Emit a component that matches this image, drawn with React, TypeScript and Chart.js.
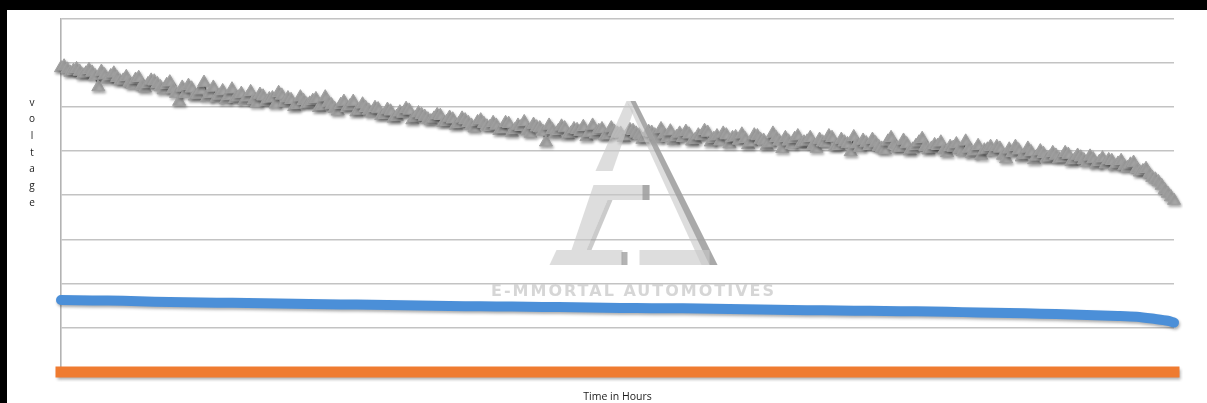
import { useEffect, useRef } from "react";
import { Chart, registerables } from "chart.js";

Chart.register(...registerables);

// Gray series (triangle markers): readings at whole sample steps
const grayVoltage: number[] = [
  6.88, 6.85, 6.82, 6.80, 6.76, 6.78, 6.45, 6.72, 6.70, 6.66,
  6.60, 6.55, 6.62, 6.48, 6.52, 6.58, 6.45, 6.50, 6.40, 6.12,
  6.30, 6.42, 6.28, 6.55, 6.30, 6.20, 6.36, 6.25, 6.18, 6.30,
  6.22, 6.15, 6.28, 6.12, 6.20, 6.32, 6.10, 6.16, 6.05, 6.14,
  6.08, 6.18, 6.02, 6.10, 5.96, 6.05, 5.98, 6.12, 5.92, 5.98,
  5.86, 5.95, 5.82, 5.90, 5.78, 5.85, 5.92, 5.76, 5.82, 5.72,
  5.74, 5.80, 5.66, 5.72, 5.62, 5.70, 5.58, 5.66, 5.62, 5.55,
  5.58, 5.50, 5.62, 5.48, 5.55, 5.45, 5.60, 5.52, 5.20, 5.48,
  5.46, 5.52, 5.40, 5.48, 5.55, 5.42, 5.38, 5.50, 5.36, 5.44,
  5.40, 5.34, 5.46, 5.36, 5.30, 5.42, 5.28, 5.38, 5.45, 5.32,
  5.30, 5.38, 5.26, 5.34, 5.42, 5.28, 5.22, 5.36, 5.30, 5.24,
  5.28, 5.20, 5.34, 5.24, 5.18, 5.30, 5.05, 5.22, 5.28, 5.16,
  5.22, 5.14, 5.26, 5.18, 5.30, 5.12, 5.20, 4.98, 5.16, 5.24,
  5.12, 5.18, 5.06, 5.22, 5.14, 5.08, 5.16, 5.04, 5.20, 5.10,
  5.06, 5.12, 5.02, 5.10, 5.16, 4.98, 5.06, 5.00, 4.90, 5.04,
  4.98, 5.06, 4.82, 4.96, 5.02, 4.92, 4.98, 4.88, 4.94, 4.86,
  4.90, 4.84, 4.92, 4.80, 4.86, 4.74, 4.82, 4.76, 4.70, 4.78,
  4.72, 4.66, 4.70, 4.60, 4.55, 4.48, 4.36, 4.22, 4.04, 3.88,
];
// Gray series: readings at the half steps in between
const grayVoltageMid: number[] = [
  6.92, 6.78, 6.86, 6.72, 6.84, 6.70, 6.80, 6.62, 6.76, 6.58,
  6.68, 6.50, 6.66, 6.42, 6.60, 6.52, 6.38, 6.56, 6.30, 6.44,
  6.48, 6.24, 6.38, 6.22, 6.44, 6.26, 6.16, 6.40, 6.22, 6.14,
  6.34, 6.08, 6.24, 6.18, 6.06, 6.26, 6.20, 6.00, 6.22, 6.06,
  6.14, 5.98, 6.22, 6.04, 5.90, 6.12, 6.02, 5.88, 6.06, 5.92,
  5.98, 5.80, 5.94, 5.74, 5.88, 5.96, 5.70, 5.86, 5.78, 5.68,
  5.82, 5.64, 5.76, 5.58, 5.74, 5.64, 5.52, 5.70, 5.56, 5.64,
  5.46, 5.64, 5.42, 5.58, 5.66, 5.40, 5.54, 5.44, 5.58, 5.38,
  5.56, 5.36, 5.50, 5.44, 5.32, 5.58, 5.46, 5.34, 5.52, 5.40,
  5.30, 5.48, 5.40, 5.26, 5.44, 5.36, 5.50, 5.30, 5.24, 5.40,
  5.44, 5.22, 5.36, 5.46, 5.20, 5.34, 5.40, 5.16, 5.32, 5.38,
  5.14, 5.36, 5.26, 5.12, 5.40, 5.22, 5.30, 5.14, 5.34, 5.20,
  5.30, 5.06, 5.20, 5.34, 5.10, 5.26, 5.16, 5.32, 5.08, 5.18,
  5.26, 5.10, 5.02, 5.30, 5.06, 5.24, 5.00, 5.12, 5.28, 5.02,
  5.14, 5.20, 4.96, 5.08, 5.04, 5.22, 4.94, 5.12, 5.02, 5.10,
  5.10, 4.90, 5.04, 5.10, 4.86, 5.06, 4.80, 5.00, 4.84, 4.96,
  4.82, 4.96, 4.76, 4.90, 4.80, 4.88, 4.70, 4.84, 4.80, 4.66,
  4.78, 4.62, 4.74, 4.52, 4.60, 4.40, 4.30, 4.12, 3.96,
];

// Blue series
const blueTimes: number[] = [
  0, 5, 10, 15, 20, 25, 30, 35, 40, 45, 50, 55, 60, 65, 70, 75, 80, 85, 90,
  95, 100, 105, 110, 115, 120, 125, 130, 135, 140, 145, 150, 155, 160, 165,
  170, 173, 176, 178, 179,
];
const blueVoltage: number[] = [
  1.63, 1.62, 1.61, 1.59, 1.58, 1.57, 1.56, 1.55, 1.54, 1.53, 1.52, 1.51,
  1.50, 1.49, 1.485, 1.475, 1.47, 1.46, 1.45, 1.445, 1.44, 1.43, 1.42, 1.41,
  1.40, 1.39, 1.385, 1.375, 1.37, 1.355, 1.34, 1.33, 1.31, 1.29, 1.27, 1.25,
  1.20, 1.16, 1.12,
];

// Orange series
const orangeTimes: number[] = [0, 20, 40, 60, 80, 100, 120, 140, 160, 179];
const orangeVoltage: number[] = [0, 0, 0, 0, 0, 0, 0, 0, 0, 0];

const yMin = 0;
const yMax = 8;
const yStep = 1;

const xTitle = "Time in Hours";
const yTitleLetters = ["v", "o", "l", "t", "a", "g", "e"];
const watermarkText = "E-MMORTAL AUTOMOTIVES";

const grayPoints: { x: number; y: number }[] = [];
grayVoltage.forEach((v, i) => {
  grayPoints.push({ x: i, y: v });
  if (i < grayVoltageMid.length) grayPoints.push({ x: i + 0.5, y: grayVoltageMid[i] });
});

const shadowPlugin = {
  id: "seriesShadow",
  beforeDatasetDraw(chart: any) {
    const ctx = chart.ctx;
    ctx.save();
    ctx.shadowColor = "rgba(0,0,0,0.32)";
    ctx.shadowBlur = 3;
    ctx.shadowOffsetX = 1;
    ctx.shadowOffsetY = 2;
  },
  afterDatasetDraw(chart: any) {
    chart.ctx.restore();
  },
};

const watermarkPlugin = {
  id: "watermark",
  afterDatasetsDraw(chart: any) {
    const ctx: CanvasRenderingContext2D = chart.ctx;
    const { left, right } = chart.chartArea;
    const cx = (left + right) / 2 + 12;
    const top = 91;
    const P = (dx: number, dy: number): [number, number] => [cx + dx, top + dy];
    const poly = (pts: [number, number][], fill: string) => {
      ctx.beginPath();
      ctx.moveTo(pts[0][0], pts[0][1]);
      for (let i = 1; i < pts.length; i++) ctx.lineTo(pts[i][0], pts[i][1]);
      ctx.closePath();
      ctx.fillStyle = fill;
      ctx.fill();
    };
    const light = "rgba(200,200,200,0.62)";
    const dark = "rgba(150,150,150,0.72)";
    ctx.save();
    poly([P(-3, 0), P(4, 10), P(-17, 70), P(-34, 70)], light);
    poly([P(-3, 0), P(6, 0), P(88, 164), P(72, 164)], light);
    poly([P(1, 0), P(6, 0), P(88, 164), P(80, 164)], dark);
    poly([P(-73, 149), P(-7, 149), P(-7, 164), P(-80, 164)], light);
    poly([P(10, 149), P(80, 149), P(80, 164), P(10, 164)], light);
    poly([P(-8, 151), P(-2, 151), P(-2, 164), P(-8, 164)], dark);
    poly([P(-36, 84), P(20, 84), P(20, 99), P(-22, 99), P(-43, 149), P(-58, 149)], light);
    poly([P(-22, 99), P(-17, 99), P(-38, 149), P(-43, 149)], "rgba(160,160,160,0.55)");
    poly([P(13, 84), P(20, 84), P(20, 99), P(13, 99)], dark);
    ctx.font = "bold 16px 'DejaVu Sans'";
    const targetW = 283;
    const w0 = ctx.measureText(watermarkText).width;
    const spacing = (targetW - w0) / (watermarkText.length - 1);
    (ctx as any).letterSpacing = spacing.toFixed(2) + "px";
    ctx.fillStyle = "rgba(210,210,210,0.9)";
    ctx.textBaseline = "alphabetic";
    ctx.textAlign = "left";
    ctx.fillText(watermarkText, cx + 3 - targetW / 2, 286);
    ctx.restore();
  },
};

export default function App() {
  const canvasRef = useRef<HTMLCanvasElement | null>(null);

  useEffect(() => {
    document.body.style.margin = "0";
    document.body.style.background = "#fff";
    document.documentElement.style.background = "#fff";
    document.documentElement.style.overflow = "hidden";
    document.body.style.overflow = "hidden";
    const canvas = canvasRef.current;
    if (!canvas) return;
    const chart = new Chart(canvas, {
      type: "line",
      data: {
        datasets: [
          {
            label: "Series 3",
            data: grayPoints,
            borderColor: "#707070",
            borderWidth: 1.5,
            pointStyle: "triangle",
            pointRadius: 7.5,
            pointBackgroundColor: "#a7a7a7",
            pointBorderColor: "#9f9f9f",
            pointBorderWidth: 1,
            tension: 0,
            clip: 10,
          },
          {
            label: "Series 1",
            data: blueTimes.map((t, i) => ({ x: t, y: blueVoltage[i] })),
            borderColor: "#4b8fd8",
            borderWidth: 10,
            borderCapStyle: "round",
            borderJoinStyle: "round",
            pointRadius: 0,
            tension: 0.3,
            clip: 10,
          },
          {
            label: "Series 2",
            data: orangeTimes.map((t, i) => ({ x: t, y: orangeVoltage[i] })),
            borderColor: "#ef7b30",
            borderWidth: 11,
            borderCapStyle: "square",
            pointRadius: 0,
            tension: 0,
            clip: 10,
          },
        ],
      },
      options: {
        animation: false,
        responsive: false,
        devicePixelRatio: 1,
        layout: { padding: { left: 54, right: 9, top: 5, bottom: 0 } },
        plugins: {
          legend: { display: false },
          tooltip: { enabled: false },
        },
        scales: {
          x: {
            type: "linear",
            min: 0,
            max: grayVoltage.length - 1,
            grid: { display: false, drawTicks: false },
            border: { display: false },
            ticks: { display: false },
            title: {
              display: true,
              text: xTitle,
              color: "#1a1a1a",
              font: { family: "'Open Sans'", size: 10.5 },
              padding: { top: 0, bottom: 0 },
            },
            afterFit: (s: any) => {
              s.height = 31;
            },
          },
          y: {
            min: yMin,
            max: yMax,
            ticks: { display: false, stepSize: yStep },
            grid: { color: "#c3c3c3", lineWidth: 1.6, drawTicks: false },
            border: { display: true, color: "#b3b3b3", width: 1.6 },
            afterFit: (s: any) => {
              s.width = 0;
            },
          },
        },
      },
      plugins: [shadowPlugin, watermarkPlugin],
    });
    return () => chart.destroy();
  }, []);

  return (
    <div style={{ position: "relative", width: 1190, height: 403, background: "#fff" }}>
      <div style={{ position: "absolute", left: 0, top: 0, width: 1207, height: 10, background: "#000" }} />
      <div style={{ position: "absolute", left: 0, top: 0, width: 7, height: 403, background: "#000" }} />
      <canvas
        ref={canvasRef}
        width={1176}
        height={393}
        style={{ display: "block", position: "absolute", left: 7, top: 10 }}
      />
      <div
        style={{
          position: "absolute",
          left: 22,
          top: 93.6,
          width: 20,
          textAlign: "center",
          fontFamily: "'Open Sans', sans-serif",
          fontSize: 10,
          lineHeight: "16.7px",
          color: "#1a1a1a",
        }}
      >
        {yTitleLetters.map((c, i) => (
          <div key={i}>{c}</div>
        ))}
      </div>
    </div>
  );
}
